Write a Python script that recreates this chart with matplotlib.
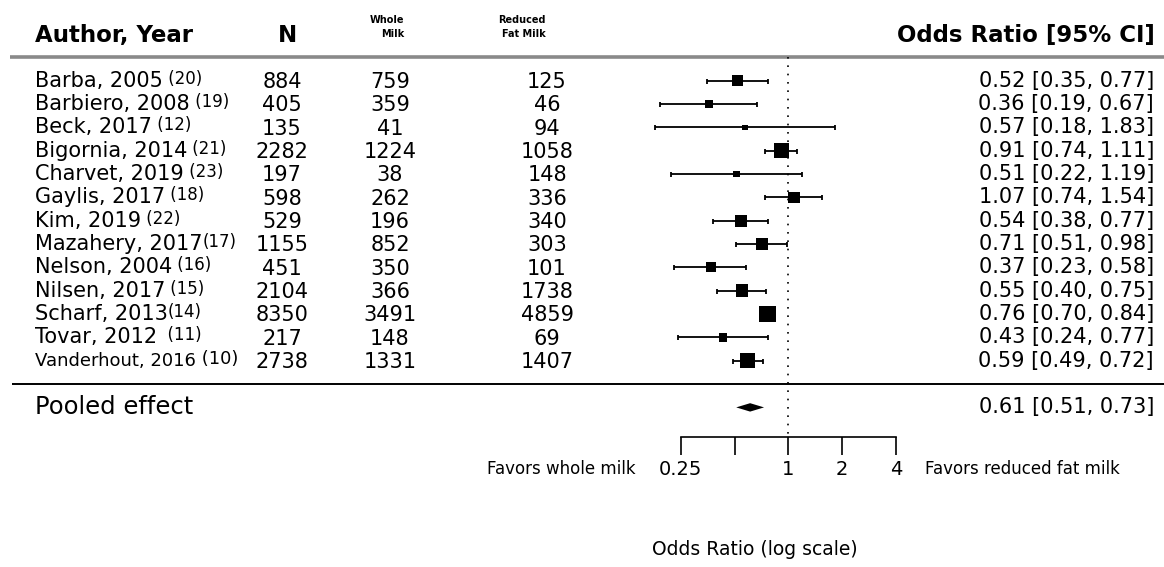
import numpy as np
import matplotlib
matplotlib.use('Agg')
import matplotlib.pyplot as plt
from matplotlib.transforms import blended_transform_factory

plt.rcParams['font.family'] = 'DejaVu Sans'

# Studies comparing whole milk with reduced fat milk
authors = ['Barba, 2005', 'Barbiero, 2008', 'Beck, 2017', 'Bigornia, 2014', 'Charvet, 2019',
           'Gaylis, 2017', 'Kim, 2019', 'Mazahery, 2017', 'Nelson, 2004', 'Nilsen, 2017',
           'Scharf, 2013', 'Tovar, 2012', 'Vanderhout, 2016']
refs = [' (20)', ' (19)', ' (12)', ' (21)', ' (23)', ' (18)', ' (22)', '(17)', ' (16)',
        ' (15)', '(14)', '  (11)', ' (10)']
n_total = [884, 405, 135, 2282, 197, 598, 529, 1155, 451, 2104, 8350, 217, 2738]
n_whole = [759, 359, 41, 1224, 38, 262, 196, 852, 350, 366, 3491, 148, 1331]
n_reduced = [125, 46, 94, 1058, 148, 336, 340, 303, 101, 1738, 4859, 69, 1407]
odds = [0.52, 0.36, 0.57, 0.91, 0.51, 1.07, 0.54, 0.71, 0.37, 0.55, 0.76, 0.43, 0.59]
ci_low = [0.35, 0.19, 0.18, 0.74, 0.22, 0.74, 0.38, 0.51, 0.23, 0.40, 0.70, 0.24, 0.49]
ci_high = [0.77, 0.67, 1.83, 1.11, 1.19, 1.54, 0.77, 0.98, 0.58, 0.75, 0.84, 0.77, 0.72]

pooled_or = 0.61
pooled_low = 0.51
pooled_high = 0.73

ticks = [0.25, 0.5, 1, 2, 4]
tick_labels = ['0.25', '', '1', '2', '4']

odds = np.array(odds)
lo = np.array(ci_low)
hi = np.array(ci_high)
rows = np.arange(len(authors))

# random-effects weights (DerSimonian-Laird) -> square sizes
yi = np.log(odds)
vi = ((np.log(hi) - np.log(lo)) / (2 * 1.96)) ** 2
wi = 1 / vi
ybar = np.sum(wi * yi) / np.sum(wi)
Q = np.sum(wi * (yi - ybar) ** 2)
C = np.sum(wi) - np.sum(wi ** 2) / np.sum(wi)
tau2 = max(0.0, (Q - (len(yi) - 1)) / C)
w_re = 1 / (vi + tau2)
psize = (w_re - w_re.min()) / (w_re.max() - w_re.min()) + 0.5
side_pt = 11.2 * psize * 0.72

W, H = 1164, 567
fig = plt.figure(figsize=(W / 100, H / 100), dpi=100)
ax = fig.add_axes([0, 0, 1, 1])
ax.set_xscale('log', base=2)
ax.set_xlim(2 ** -14.656, 2 ** 6.98)
ax.set_ylim(20.84, -3.459)
ax.axis('off')

tr = blended_transform_factory(ax.transAxes, ax.transData)


def fx(px):
    return px / W


# header
ax.text(fx(35), -1.92, 'Author, Year', transform=tr, fontsize=16.5, fontweight='bold', va='center')
ax.text(fx(288), -1.92, 'N', transform=tr, fontsize=16.5, fontweight='bold', va='center', ha='center')
ax.text(fx(404), -2.3, 'Whole\nMilk', transform=tr, fontsize=7, fontweight='bold', va='center',
        ha='right', multialignment='right', linespacing=1.5)
ax.text(fx(546), -2.3, 'Reduced\nFat Milk', transform=tr, fontsize=7, fontweight='bold', va='center',
        ha='right', multialignment='right', linespacing=1.5)
ax.text(fx(1155), -1.92, 'Odds Ratio [95% CI]', transform=tr, fontsize=16.5, fontweight='bold',
        va='center', ha='right')
ax.plot([fx(10), 1], [-1.016, -1.016], transform=tr, color='#8a8a8a', lw=2.6, solid_capstyle='butt')

# study rows
for i in rows:
    fs = 13 if i == len(authors) - 1 else 15
    rfs = 13 if i == len(authors) - 1 else 12
    t = ax.text(fx(35), i, authors[i], transform=tr, fontsize=fs, va='center')
    ax.annotate(refs[i], xy=(1, 0.5), xycoords=t, xytext=(0, 1.5), textcoords='offset points',
                fontsize=rfs, va='center', ha='left')
    ax.text(fx(282), i + 0.05, str(n_total[i]), transform=tr, fontsize=15, va='center', ha='center')
    ax.text(fx(390), i + 0.05, str(n_whole[i]), transform=tr, fontsize=15, va='center', ha='center')
    ax.text(fx(547), i + 0.05, str(n_reduced[i]), transform=tr, fontsize=15, va='center', ha='center')
    ax.text(fx(1154), i, f'{odds[i]:.2f} [{lo[i]:.2f}, {hi[i]:.2f}]', transform=tr, fontsize=15,
            va='center', ha='right')

ax.errorbar(odds, rows, xerr=[odds - lo, hi - odds], fmt='none', ecolor='black',
            elinewidth=1.3, capsize=1.8, capthick=1.3, zorder=2)
ax.scatter(odds, rows, s=side_pt ** 2, marker='s', c='black', linewidths=0, zorder=3)

# pooled estimate
ax.plot([fx(12), 1], [13.0, 13.0], transform=tr, color='black', lw=1.4, solid_capstyle='butt')
yp = 14.0
ax.text(fx(35), yp, 'Pooled effect', transform=tr, fontsize=17.5, va='center')
ax.fill([pooled_low, pooled_or, pooled_high, pooled_or], [yp, yp - 0.18, yp, yp + 0.18],
        color='black', lw=0)
ax.text(fx(1154), yp, f'{pooled_or:.2f} [{pooled_low:.2f}, {pooled_high:.2f}]', transform=tr,
        fontsize=15, va='center', ha='right')

# reference line and x axis
ax.plot([1, 1], [-1.0, 15.27], color='black', lw=1.2, linestyle=(0, (1, 4)))
ax.plot([ticks[0], ticks[-1]], [15.27, 15.27], color='black', lw=1.2)
ax.vlines(ticks, 15.27, 16.05, color='black', lw=1.2)
for t, lab in zip(ticks, tick_labels):
    ax.text(t, 16.65, lab, fontsize=14, ha='center', va='center')
ax.text(fx(636), 16.65, 'Favors whole milk', transform=tr, fontsize=12, ha='right', va='center')
ax.text(fx(925), 16.65, 'Favors reduced fat milk', transform=tr, fontsize=12, ha='left', va='center')
ax.text(fx(755), 20.1, 'Odds Ratio (log scale)', transform=tr, fontsize=13.5, ha='center', va='center')

fig.savefig('out.png', dpi=100)
